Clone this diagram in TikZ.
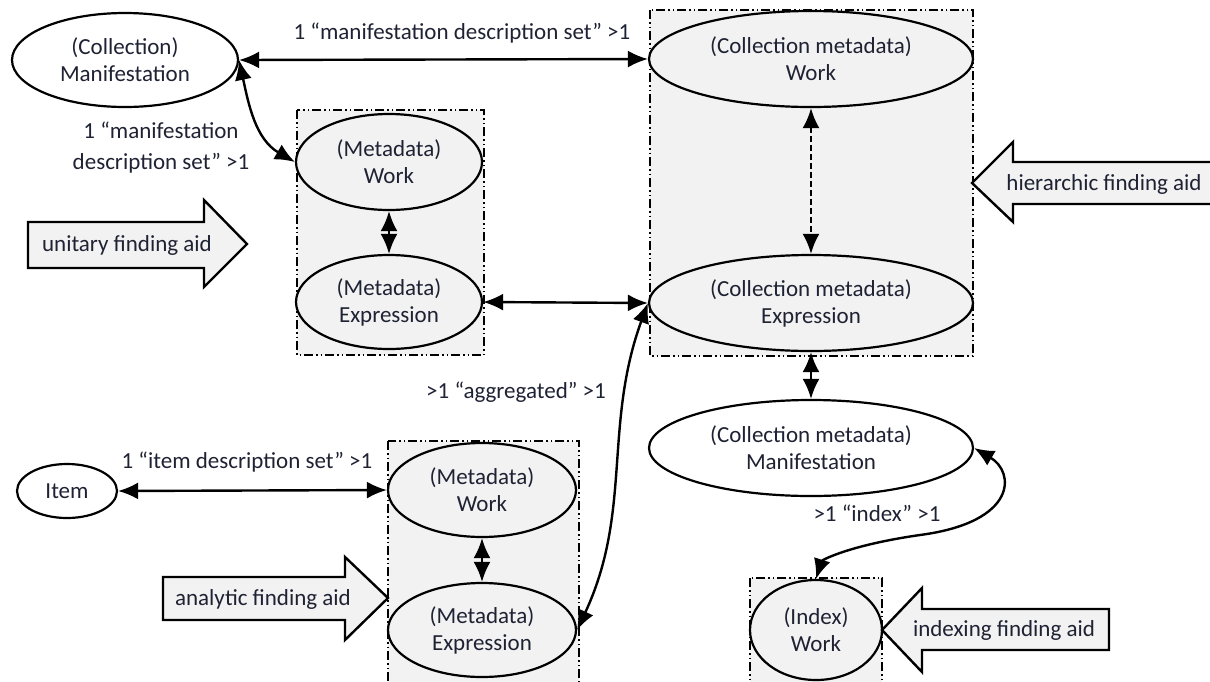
\documentclass[tikz,border=0pt]{standalone}
\usepackage{fontspec}
\setmainfont{Carlito}
\usetikzlibrary{shapes.geometric,arrows.meta}
\definecolor{boxfill}{HTML}{F2F2F2}
\definecolor{txt}{HTML}{1E2233}
\begin{document}
\begin{tikzpicture}[x=1pt,y=-1pt,
  font=\fontsize{23}{27}\selectfont, text=txt,
  ent/.style={ellipse, draw, line width=2.2pt, inner sep=0pt, align=center, fill=white},
  shaded/.style={fill=boxfill},
  grp/.style={draw, line width=1.3pt, fill=boxfill,
    dash pattern=on 9pt off 3pt on 1.5pt off 3pt on 1.5pt off 3pt},
  link/.style={line width=2.4pt,
    {Latex[length=20pt,width=17pt]}-{Latex[length=20pt,width=17pt]}},
  dashlink/.style={link, dash pattern=on 6pt off 3pt},
  blk/.style={draw, line width=2.4pt, fill=boxfill, line join=miter},
  lbl/.style={inner sep=0pt, align=center}]

\useasboundingbox (0,0) rectangle (1210,681);
\clip (0,0) rectangle (1210,681);

% groups
\draw[grp] (297,110) rectangle (484,355);
\draw[grp] (650,10) rectangle (973,356);
\draw[grp] (388,441) rectangle (579,695);
\draw[grp] (750,578) rectangle (882,695);

% entities
\node[ent, minimum width=226, minimum height=94] (cman) at (125,60) {(Collection)\\Manifestation};
\node[ent, shaded, minimum width=186, minimum height=96] (mW1) at (389,162) {(Metadata)\\Work};
\node[ent, shaded, minimum width=186, minimum height=94] (mE1) at (389,302) {(Metadata)\\Expression};
\node[ent, shaded, minimum width=324, minimum height=96] (cmW) at (811,59) {(Collection metadata)\\Work};
\node[ent, shaded, minimum width=324, minimum height=96] (cmE) at (811,303) {(Collection metadata)\\Expression};
\node[ent, minimum width=324, minimum height=96] (cmM) at (811,448) {(Collection metadata)\\Manifestation};
\node[ent, minimum width=100, minimum height=54] (item) at (67,491) {Item};
\node[ent, shaded, minimum width=188, minimum height=94] (mW2) at (482,490) {(Metadata)\\Work};
\node[ent, shaded, minimum width=188, minimum height=94] (mE2) at (482,630) {(Metadata)\\Expression};
\node[ent, shaded, minimum width=132, minimum height=100] (iW) at (816,630) {(Index)\\Work};

% connectors
\draw[link] (cman.east) -- (cmW.west);
\draw[link] (cman.east) to[out=-78, in=150] (mW1.west);
\draw[link] (mW1.south) -- (mE1.north);
\draw[link] (mE1.east) -- (cmE.west);
\draw[dashlink] (cmW.south) -- (cmE.north);
\draw[link] (cmE.south) -- (cmM.north);
\draw[link] (cmE.west) to[out=-110, in=65] (mE2.east);
\draw[link] (item.east) -- (mW2.west);
\draw[link] (mW2.south) -- (mE2.north);
\draw[link] (cmM.east) .. controls (1015,472) and (1018,522) .. (920,535)
  .. controls (850,545) and (822,560) .. (iW.north);

% connector labels
\node[lbl] (l1) at (462,33) {1 “manifestation description set” >1};
\node[lbl, font=\fontsize{23}{31}\selectfont] (l2) at (161,148) {1 “manifestation\\description set” >1};
\node[lbl] (l3) at (516,392) {>1 “aggregated” >1};
\node[lbl] (l4) at (247,462) {1 “item description set” >1};
\node[lbl] (l5) at (877,513) {>1 “index” >1};

% block arrows
\draw[blk] (28,222) -- (204,222) -- (204,200) -- (247,244) -- (204,287) -- (204,268) -- (28,268) -- cycle;
\node[lbl] (t1) at (127,245) {unitary finding aid};
\draw[blk] (1215,162) -- (1013,162) -- (1013,142) -- (972,183) -- (1013,222) -- (1013,204) -- (1215,204) -- cycle;
\node[lbl] (t2) at (1104,184) {hierarchic finding aid};
\draw[blk] (163,577) -- (345,577) -- (345,557) -- (388,598) -- (345,640) -- (345,620) -- (163,620) -- cycle;
\node[lbl] (t3) at (263,599) {analytic finding aid};
\draw[blk] (1109,609) -- (922,609) -- (922,588) -- (882,630) -- (922,672) -- (922,650) -- (1109,650) -- cycle;
\node[lbl] (t4) at (1004,630) {indexing finding aid};
\end{tikzpicture}
\end{document}
